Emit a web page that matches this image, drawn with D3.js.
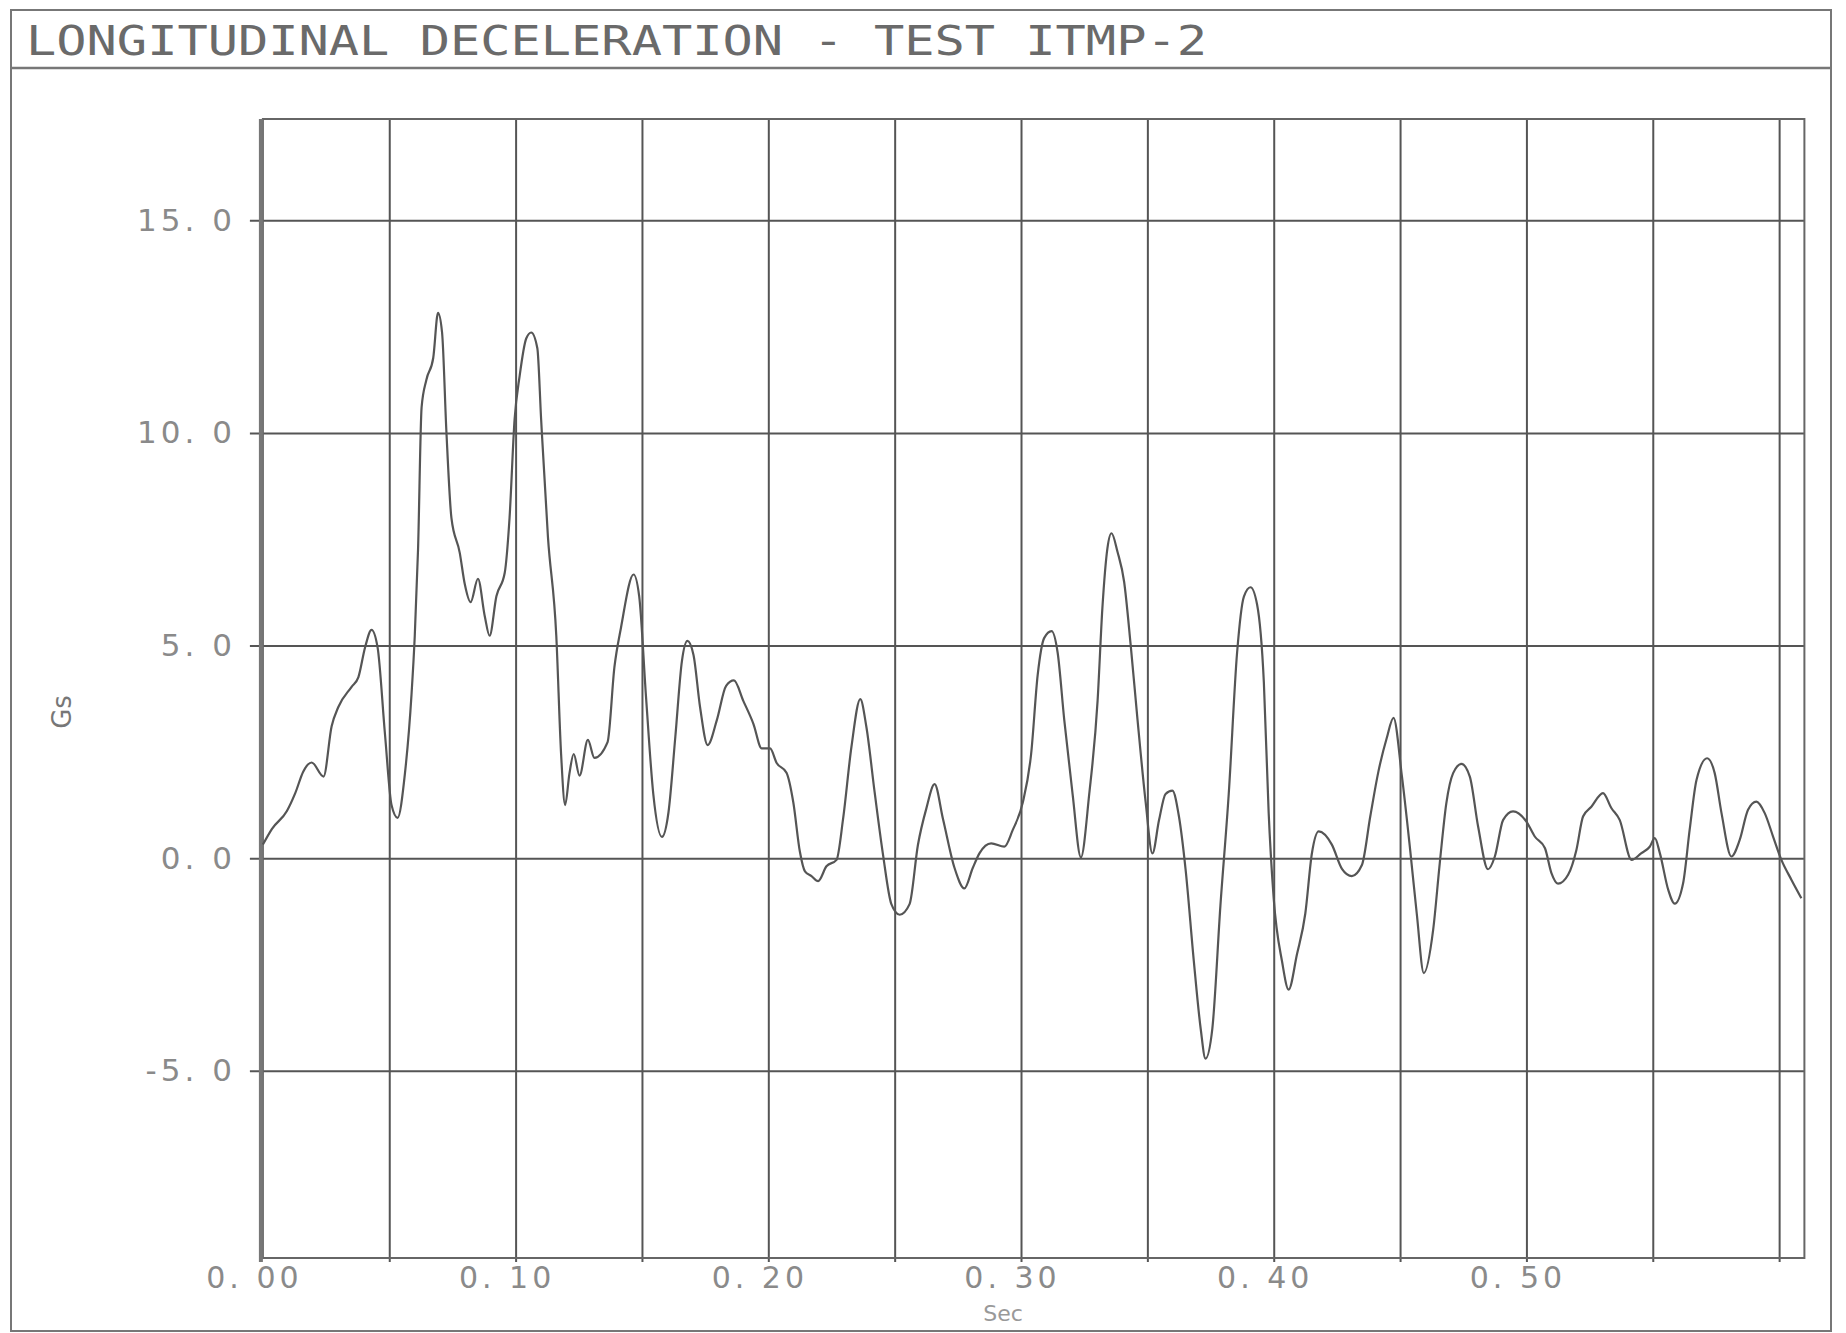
<!DOCTYPE html>
<html>
<head>
<meta charset="utf-8">
<script src="https://cdn.jsdelivr.net/npm/d3@7"></script>
<style>
  html, body { margin: 0; padding: 0; background: #fff; }
  svg { display: block; }
  .tick text { font-family: "DejaVu Sans", sans-serif; }
</style>
</head>
<body>
<svg id="chart" width="1846" height="1333"></svg>
<script>
// ---------------- data ----------------
const titleText = "LONGITUDINAL DECELERATION - TEST ITMP-2";
const yAxisLabel = "Gs";
const xAxisLabel = "Sec";

const timeSec = [
  0.000, 0.0036, 0.0095, 0.0128, 0.016, 0.0193, 0.024, 0.0272, 0.0299, 0.0351,
  0.0378, 0.0404, 0.043, 0.0454, 0.0483, 0.0509, 0.0533, 0.0562, 0.0588, 0.0601,
  0.0614, 0.0628, 0.0647, 0.0674, 0.0693, 0.0709, 0.0726, 0.0746, 0.0779, 0.0799,
  0.0822, 0.0851, 0.0878, 0.0897, 0.0924, 0.0957, 0.0976, 0.0996, 0.1016, 0.1042,
  0.1062, 0.1086, 0.1101, 0.1128, 0.1161, 0.1180, 0.1196, 0.1213, 0.1230, 0.1253,
  0.1286, 0.1312, 0.1364, 0.1391, 0.1417, 0.1467, 0.1489, 0.1516, 0.1545, 0.1579,
  0.1605, 0.1632, 0.1658, 0.168, 0.1704, 0.173, 0.176, 0.1796, 0.1833, 0.1864,
  0.1901, 0.1941, 0.1974, 0.2007, 0.2033, 0.2072, 0.2099, 0.2125, 0.2145, 0.2171,
  0.2197, 0.223, 0.227, 0.2296, 0.2329, 0.2364, 0.2388, 0.2421, 0.2454, 0.2487,
  0.252, 0.2559, 0.2592, 0.2625, 0.2658, 0.2691, 0.2737, 0.2776, 0.2809, 0.2836,
  0.2882, 0.2934, 0.2967, 0.3007, 0.304, 0.3066, 0.3092, 0.3121, 0.3145, 0.3171,
  0.3204, 0.3237, 0.327, 0.3303, 0.3322, 0.3342, 0.3358, 0.3382, 0.3408, 0.3434,
  0.3461, 0.3493, 0.352, 0.3546, 0.3572, 0.3599, 0.3625, 0.3651, 0.3684, 0.3711,
  0.373, 0.3757, 0.3789, 0.3822, 0.3855, 0.3882, 0.3908, 0.3934, 0.3961, 0.398,
  0.400, 0.4033, 0.4059, 0.4092, 0.4125, 0.4151, 0.4178, 0.4230, 0.427, 0.4309,
  0.4349, 0.4382, 0.4414, 0.4447, 0.4474, 0.4507, 0.454, 0.4566, 0.4594, 0.4631,
  0.4657, 0.4683, 0.471, 0.4743, 0.4776, 0.4809, 0.4848, 0.4875, 0.4908, 0.4947,
  0.500, 0.5033, 0.5073, 0.5099, 0.5125, 0.5165, 0.5198, 0.5224, 0.5257, 0.5303,
  0.5336, 0.5369, 0.5416, 0.5455, 0.5488, 0.5508, 0.5528, 0.5561, 0.5587, 0.562,
  0.5646, 0.5673, 0.5715, 0.5745, 0.5772, 0.5811, 0.5844, 0.5877, 0.591, 0.5943,
  0.5976, 0.6009, 0.6049, 0.6088
];

const gsValues = [
  0.32, 0.69, 1.11, 1.53, 2.04, 2.25, 1.92, 3.10, 3.56, 4.03,
  4.26, 4.95, 5.37, 4.95, 2.92, 1.25, 0.95, 1.99, 3.84, 5.23,
  7.27, 10.6, 11.25, 11.76, 12.82, 12.36, 10.05, 8.0, 7.18, 6.44,
  6.02, 6.57, 5.69, 5.23, 6.16, 6.71, 8.0, 10.32, 11.34, 12.22,
  12.36, 11.99, 10.32, 7.55, 5.23, 2.45, 1.25, 1.99, 2.45, 1.94,
  2.78, 2.36, 2.73, 4.49, 5.42, 6.67, 6.16, 3.8, 1.5, 0.5,
  1.08, 2.85, 4.63, 5.11, 4.78, 3.55, 2.66, 3.24, 4.05, 4.18,
  3.70, 3.16, 2.58, 2.58, 2.24, 2.01, 1.31, 0.15, -0.31, -0.42,
  -0.54, -0.19, -0.04, 0.93, 2.62, 3.74, 3.09, 1.54, 0.08, -1.08,
  -1.33, -1.08, 0.31, 1.16, 1.74, 0.93, -0.23, -0.71, -0.23, 0.12,
  0.35, 0.27, 0.66, 1.31, 2.45, 4.31, 5.18, 5.34, 4.83, 3.26,
  1.51, 0.02, 1.51, 3.70, 5.88, 7.29, 7.64, 7.20, 6.50, 5.01,
  3.26, 1.33, 0.11, 0.89, 1.51, 1.59, 0.98, -0.25, -2.43, -4.01,
  -4.71, -4.01, -1.12, 1.51, 4.83, 6.15, 6.37, 5.97, 4.13, 1.07,
  -0.95, -2.43, -3.09, -2.26, -1.30, 0.11, 0.63, 0.32, -0.25, -0.42,
  -0.16, 0.98, 2.03, 2.82, 3.30, 1.94, 0.19, -1.30, -2.70, -1.68,
  -0.12, 1.29, 2.0, 2.22, 1.92, 0.74, -0.26, 0.04, 0.90, 1.10,
  0.86, 0.51, 0.24, -0.35, -0.60, -0.39, 0.20, 0.98, 1.21, 1.53,
  1.18, 0.90, -0.04, 0.12, 0.27, 0.47, 0.12, -0.74, -1.07, -0.59,
  0.67, 1.84, 2.35, 2.0, 1.06, 0.04, 0.43, 1.14, 1.33, 1.06,
  0.51, -0.04, -0.51, -0.94
];

const yTicks = [-5, 0, 5, 10, 15];
const yTickLabels = ["-5. 0", "0. 0", "5. 0", "10. 0", "15. 0"];
const xGridTicks = [0.05, 0.10, 0.15, 0.20, 0.25, 0.30, 0.35, 0.40, 0.45, 0.50, 0.55, 0.60];
const xLabelTicks = [0.00, 0.10, 0.20, 0.30, 0.40, 0.50];
const xTickLabels = ["0. 00", "0. 10", "0. 20", "0. 30", "0. 40", "0. 50"];

const xDomain = [0, 0.61];
const yDomain = [-9.4, 17.38];

// ---------------- layout ----------------
const svg = d3.select("#chart");
const plot = { left: 262.9, right: 1804.4, top: 119, bottom: 1258 };
const x = d3.scaleLinear().domain(xDomain).range([plot.left, plot.right]);
const y = d3.scaleLinear().domain(yDomain).range([plot.bottom, plot.top]);

const gridColor = "#555";
const textColor = "#8a8a8a";

svg.append("rect").attr("width", 1846).attr("height", 1333).attr("fill", "#fff");

// outer frame and title rule
svg.append("rect")
  .attr("x", 11).attr("y", 10).attr("width", 1820).attr("height", 1321)
  .attr("fill", "none").attr("stroke", "#777").attr("stroke-width", 2);
svg.append("line")
  .attr("x1", 11).attr("x2", 1831).attr("y1", 68).attr("y2", 68)
  .attr("stroke", "#777").attr("stroke-width", 2.5);

// title
svg.append("text")
  .attr("x", 26).attr("y", 55)
  .attr("textLength", 1181).attr("lengthAdjust", "spacingAndGlyphs")
  .style("font-family", "'DejaVu Sans Mono', monospace")
  .style("font-size", "41px")
  .attr("fill", "#6a6a6a")
  .text(titleText);

// y axis with horizontal grid lines
const tickOut = 13;
const yAxis = d3.axisLeft(y)
  .tickValues(yTicks)
  .tickSize(-(plot.right - plot.left + tickOut))
  .tickPadding(14)
  .tickFormat((d, i) => yTickLabels[i]);
const gy = svg.append("g")
  .attr("transform", `translate(${plot.left - tickOut},0)`)
  .call(yAxis);
gy.select(".domain").remove();
gy.selectAll(".tick line").attr("stroke", gridColor).attr("stroke-width", 2);
gy.selectAll(".tick text")
  .attr("fill", textColor).style("font-size", "31px")
  .style("letter-spacing", "4px");

// x grid lines (every 0.05)
const xGridAxis = d3.axisBottom(x)
  .tickValues(xGridTicks)
  .tickSize(-(plot.bottom - plot.top + 4))
  .tickFormat("");
const gxg = svg.append("g")
  .attr("transform", `translate(0,${plot.bottom + 4})`)
  .call(xGridAxis);
gxg.select(".domain").remove();
gxg.selectAll(".tick line").attr("stroke", gridColor).attr("stroke-width", 2);

// x labels
const xLabelAxis = d3.axisBottom(x)
  .tickValues(xLabelTicks)
  .tickSize(0)
  .tickPadding(5)
  .tickFormat((d, i) => xTickLabels[i]);
const gxl = svg.append("g")
  .attr("transform", `translate(0,${plot.bottom + 4})`)
  .call(xLabelAxis);
gxl.select(".domain").remove();
gxl.selectAll(".tick text")
  .attr("fill", textColor).attr("dx", -9).style("font-size", "30px")
  .style("letter-spacing", "4px");

// plot frame
svg.append("rect")
  .attr("x", plot.left).attr("y", plot.top)
  .attr("width", plot.right - plot.left).attr("height", plot.bottom - plot.top)
  .attr("fill", "none").attr("stroke", "#666").attr("stroke-width", 2);
svg.append("line")
  .attr("x1", plot.left - 2).attr("x2", plot.left - 2)
  .attr("y1", plot.top).attr("y2", plot.bottom + 4)
  .attr("stroke", "#777").attr("stroke-width", 4);

// axis titles
svg.append("text")
  .attr("transform", "translate(71,712) rotate(-90)")
  .attr("text-anchor", "middle")
  .style("font-family", "'DejaVu Sans', sans-serif")
  .style("font-size", "26px")
  .attr("fill", "#777")
  .text(yAxisLabel);
svg.append("text")
  .attr("x", 1003).attr("y", 1321)
  .attr("text-anchor", "middle")
  .style("font-family", "'DejaVu Sans', sans-serif")
  .style("font-size", "22px")
  .attr("fill", "#999")
  .text(xAxisLabel);

// data curve
const series = timeSec.map((t, i) => ({ t, v: gsValues[i] }));
const line = d3.line()
  .x(d => x(d.t))
  .y(d => y(d.v))
  .curve(d3.curveMonotoneX);
svg.append("path")
  .datum(series)
  .attr("d", line)
  .attr("fill", "none")
  .attr("stroke", "#555")
  .attr("stroke-width", 2.2)
  .attr("stroke-linejoin", "round");
</script>
</body>
</html>
